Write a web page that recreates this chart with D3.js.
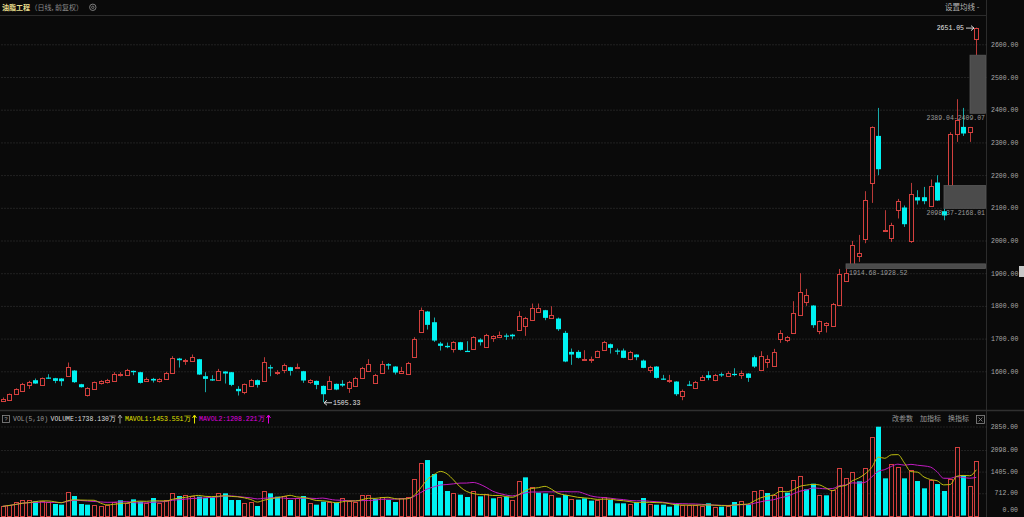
<!DOCTYPE html>
<html><head><meta charset="utf-8">
<script src="https://cdn.jsdelivr.net/npm/d3@7"></script>
<style>
html,body{margin:0;padding:0;background:#0a0a0a;overflow:hidden}
svg{display:block}
</style></head><body>
<svg id="c" width="1024" height="517"></svg>
<script>
// ---------- DATA ----------
const openP = [1510.6,1513.6,1529.9,1540.2,1559.5,1572.8,1559.5,1580.9,1578.9,1577.9,
1585.0,1602.3,1560.5,1528.9,1547.3,1564.6,1568.7,1570.7,1589.1,1589.1,
1601.3,1597.2,1569.7,1576.8,1570.7,1577.9,1595.2,1639.0,1630.9,1631.9,
1637.0,1585.0,1575.8,1573.8,1599.3,1597.2,1546.3,1536.1,1556.5,1572.8,
1570.7,1612.5,1594.2,1603.4,1612.5,1609.5,1600.3,1566.7,1570.7,1555.4,
1546.3,1561.6,1561.6,1550.3,1554.4,1580.9,1600.3,1565.6,1596.2,1621.7,
1614.6,1596.2,1593.2,1645.1,1721.6,1782.8,1750.1,1684.9,1677.8,1668.6,
1689.0,1662.5,1669.6,1697.1,1673.7,1703.2,1704.3,1709.4,1712.0,1727.7,
1737.9,1758.3,1782.8,1786.8,1762.4,1761.3,1717.5,1659.4,1659.4,1636.0,
1633.9,1644.1,1665.5,1682.8,1663.5,1663.5,1638.0,1651.2,1632.9,1605.4,
1614.5,1577.8,1571.7,1568.7,1524.8,1559.5,1549.3,1574.8,1588.1,1574.8,
1591.1,1586.0,1592.1,1589.1,1593.1,1643.1,1605.4,1627.8,1616.6,1699.2,
1697.1,1718.5,1771.5,1812.3,1801.1,1723.6,1742.0,1739.9,1804.2,1876.5,
1929.5,1954.1,2004.0,2176.1,2319.9,2030.5,2008.0,2092.7,2100.9,1998.8,
2132.4,2132.4,2105.8,2177.4,2089.6,2168.5,2324.2,2347.4,2332.1,2615.6];
const highP = [1519.8,1532.0,1548.0,1564.6,1570.7,1577.9,1580.9,1591.1,1579.9,1578.9,
1626.8,1603.4,1561.6,1551.4,1568.7,1572.8,1576.8,1597.2,1597.2,1607.4,
1602.3,1598.3,1580.9,1579.9,1578.9,1598.3,1646.2,1641.1,1638.0,1651.3,
1638.0,1597.2,1588.1,1607.4,1600.3,1598.3,1554.4,1562.6,1576.8,1574.8,
1643.1,1619.7,1603.4,1623.7,1613.5,1623.7,1601.3,1575.8,1571.8,1556.5,
1585.0,1562.6,1572.8,1570.7,1583.0,1613.5,1637.0,1592.1,1631.9,1624.7,
1615.6,1613.5,1628.8,1704.3,1795.0,1784.8,1764.4,1690.0,1687.9,1692.0,
1690.0,1692.0,1707.3,1701.2,1714.5,1710.4,1721.6,1715.5,1714.5,1783.8,
1766.4,1807.2,1807.2,1787.9,1799.1,1764.4,1723.6,1669.6,1664.5,1664.5,
1645.1,1663.5,1693.1,1684.9,1669.6,1669.6,1662.5,1652.3,1636.0,1616.6,
1615.6,1589.1,1589.1,1569.7,1544.2,1570.7,1570.7,1588.1,1600.3,1592.1,
1596.2,1600.3,1609.4,1602.3,1594.2,1648.2,1661.5,1649.2,1668.6,1725.7,
1708.3,1814.4,1900.0,1852.1,1802.1,1755.2,1750.1,1809.2,1913.0,1914.68,
1998.8,2017.1,2150.8,2349.0,2405.5,2092.7,2054.2,2127.2,2107.0,2176.1,
2153.8,2163.9,2186.5,2199.7,2098.37,2331.2,2432.1,2405.5,2347.4,2651.05];
const lowP = [1508.5,1511.6,1528.9,1539.1,1546.3,1561.6,1558.5,1576.8,1563.6,1555.4,
1583.0,1564.6,1550.3,1522.9,1546.3,1559.5,1562.6,1568.7,1584.0,1587.0,
1588.1,1562.6,1567.7,1565.6,1565.6,1575.8,1593.2,1611.5,1619.7,1629.9,
1589.1,1536.1,1570.7,1571.8,1562.6,1554.4,1525.9,1529.9,1554.4,1550.3,
1569.7,1585.0,1589.1,1594.2,1587.0,1607.4,1564.6,1561.6,1545.3,1505.33,
1544.2,1542.2,1552.4,1534.0,1552.4,1579.0,1598.2,1562.6,1594.2,1605.4,
1590.1,1595.2,1590.1,1644.1,1720.6,1727.7,1690.0,1663.5,1670.6,1657.4,
1663.5,1659.4,1667.6,1678.8,1671.6,1690.0,1703.2,1696.1,1698.1,1726.7,
1708.3,1757.3,1778.7,1756.3,1761.3,1723.6,1627.8,1619.7,1639.0,1636.0,
1625.8,1642.1,1663.5,1654.3,1651.2,1640.0,1633.9,1633.9,1609.4,1595.2,
1577.8,1573.8,1564.6,1524.8,1511.6,1555.4,1546.3,1574.8,1572.8,1569.7,
1583.0,1585.0,1585.0,1576.8,1567.7,1610.5,1603.3,1610.5,1613.5,1687.0,
1688.9,1717.5,1769.5,1800.1,1732.8,1713.4,1718.5,1737.9,1802.1,1874.5,
1928.52,1934.6,1991.7,2115.0,2199.7,2030.5,1995.7,2067.3,2041.6,1992.7,
2110.1,2111.0,2104.0,2121.1,2062.1,2168.01,2301.5,2319.9,2301.5,2566.7];
const closeP = [1516.7,1529.9,1546.3,1562.6,1568.7,1562.6,1578.9,1579.5,1570.7,1569.7,
1613.5,1566.7,1551.4,1550.3,1566.7,1569.7,1574.8,1591.1,1590.5,1605.4,
1597.2,1564.6,1577.9,1571.8,1575.8,1596.2,1641.1,1633.9,1635.0,1644.1,
1590.1,1576.8,1571.8,1602.3,1593.2,1558.5,1539.1,1560.5,1574.8,1558.5,
1629.9,1609.5,1597.2,1618.6,1601.3,1612.5,1571.8,1572.5,1558.5,1529.9,
1571.8,1544.2,1556.5,1568.7,1580.9,1611.5,1623.7,1590.1,1621.7,1617.6,
1596.2,1601.3,1626.8,1700.2,1788.9,1742.0,1694.1,1677.8,1673.7,1689.0,
1665.5,1660.4,1705.3,1689.0,1710.4,1707.3,1711.4,1706.3,1707.0,1770.5,
1764.4,1794.0,1793.0,1763.4,1772.6,1728.7,1629.9,1651.3,1641.1,1638.0,
1637.0,1661.5,1691.0,1671.6,1660.4,1641.1,1660.4,1643.1,1610.5,1613.5,
1579.9,1574.8,1574.3,1529.9,1541.2,1556.5,1568.7,1583.0,1579.9,1590.1,
1589.1,1595.2,1589.1,1596.2,1579.9,1614.5,1648.2,1637.0,1658.4,1716.5,
1706.3,1777.7,1841.9,1832.7,1741.0,1753.2,1748.1,1807.2,1899.0,1902.0,
1985.6,1963.3,2123.2,2347.4,2218.0,2031.5,2046.8,2121.1,2049.8,2141.6,
2122.3,2120.2,2167.0,2122.3,2076.5,2326.0,2367.9,2327.2,2347.4,2651.05];
const volume = [293,347,421,507,486,453,464,421,368,347,
763,624,368,347,336,315,336,443,486,411,
517,443,411,560,411,496,710,624,656,624,
603,560,581,710,710,496,496,411,443,304,
795,710,603,624,496,549,624,389,347,443,
443,411,549,475,443,646,646,528,603,496,
432,571,581,1157,1690,1776,1328,1104,784,710,
667,592,774,614,678,550,592,603,496,1104,
1222,902,731,710,646,571,656,539,507,550,
475,507,582,496,390,390,368,422,560,368,
347,347,283,368,325,336,336,304,390,283,
283,304,432,464,347,774,806,720,646,902,
731,1136,1254,838,1019,646,646,816,1510,1190,
1382,1094,1510,2523,2843,1190,1649,1542,1190,1456,
1104,870,1136,1008,784,1158,2182,1286,955,1738.13];
const priceTicks = [1600,1700,1800,1900,2000,2100,2200,2300,2400,2500,2600];
const volumeTicks = [0,712,1405,2098,2850];
const gapStart = [129,144,148];
const gapLow = [1914.68,2098.37,2389.04];
const gapHigh = [1928.52,2168.01,2566.7];
const gapLabels = ["1914.68-1928.52","2098.37-2168.01","2389.04-2409.07"];
const lowMark = [49, 1505.33];
const highMark = [149, 2651.05];
const legendTexts = ["VOL(5,10)","VOLUME:1738.130万","MAVOL1:1453.551万","MAVOL2:1208.221万"];
const toolTexts = ["改参数","加指标","换指标"];

// ---------- DRAW ----------
const BG="#0a0a0a", RED="#d4403e", RED_W="#b93a38", CYAN="#00f2f2", CYAN_W="#16a9a9";
const GRID="#3a3a3a", AXC="#2c2c2c", LBL="#a8a8a8";
const MONO="'Liberation Mono','DejaVu Sans Mono',monospace";
const CJK="'Noto Sans CJK SC','Noto Sans',sans-serif";
const FS=6.5;          // mono label font size
const CW=FS*0.6;       // mono char width
const AX=986.5;
const svg=d3.select("#c");
svg.append("rect").attr("width",1024).attr("height",517).attr("fill",BG);

const n=closeP.length;
const x=d3.scaleLinear().domain([0,n-1]).range([2.5,976.3]);
const y=d3.scaleLinear().domain([1600,2600]).range([371.3,44.3]);
const yv=d3.scaleLinear().domain([0,2850]).range([515.5,426.5]);

const defs=svg.append("defs");
defs.append("clipPath").attr("id","cm").append("rect").attr("x",0).attr("y",16).attr("width",AX).attr("height",393);
defs.append("clipPath").attr("id","cv").append("rect").attr("x",0).attr("y",424).attr("width",AX).attr("height",93);

// frame lines
svg.append("line").attr("x1",0).attr("x2",AX).attr("y1",15.5).attr("y2",15.5).attr("stroke",AXC);
svg.append("line").attr("x1",AX).attr("x2",AX).attr("y1",0).attr("y2",517).attr("stroke",AXC);
svg.append("line").attr("x1",0).attr("x2",1024).attr("y1",410.5).attr("y2",410.5).attr("stroke","#303030").attr("stroke-width",1.5);

// grid main
const gridM=svg.append("g").attr("transform",`translate(${AX},0)`)
  .call(d3.axisLeft(y).tickValues(priceTicks).tickSize(AX).tickFormat(""));
gridM.select(".domain").remove();
gridM.selectAll("line").attr("stroke",GRID).attr("stroke-dasharray","1,2");
// grid volume
const gridV=svg.append("g").attr("transform",`translate(${AX},0)`)
  .call(d3.axisLeft(yv).tickValues(volumeTicks.filter(v=>v>0)).tickSize(AX).tickFormat(""));
gridV.select(".domain").remove();
gridV.selectAll("line").attr("stroke",GRID).attr("stroke-dasharray","1,2");

// axes labels
const axM=svg.append("g").attr("transform",`translate(${AX},0)`)
  .call(d3.axisRight(y).tickValues(priceTicks).tickSize(0).tickFormat(d3.format(".2f")));
axM.select(".domain").remove();
axM.selectAll("text").attr("x",4.5).attr("text-anchor","start").attr("fill",LBL)
  .attr("font-family",MONO).attr("font-size",FS);
const axV=svg.append("g").attr("transform",`translate(${AX},0)`)
  .call(d3.axisRight(yv).tickValues(volumeTicks).tickSize(0).tickFormat(d3.format(".2f")));
axV.select(".domain").remove();
axV.selectAll(".tick").attr("transform",d=>`translate(0,${d===0?510:yv(d)})`);
axV.selectAll("text").attr("x",d=>31.5-d3.format(".2f")(d).length*CW).attr("text-anchor","start").attr("fill",LBL)
  .attr("font-family",MONO).attr("font-size",FS);

// candles
const idx=d3.range(n);
const isUp=i=>closeP[i]>=openP[i];
const cxp=i=>Math.round(x(i));
const gc=svg.append("g").attr("clip-path","url(#cm)");
gc.selectAll("line.w").data(idx).join("line").attr("class","w")
  .attr("x1",i=>cxp(i)+0.5).attr("x2",i=>cxp(i)+0.5)
  .attr("y1",i=>y(highP[i])).attr("y2",i=>y(lowP[i]))
  .attr("stroke",i=>isUp(i)?RED_W:CYAN_W);
gc.selectAll("rect.up").data(idx.filter(isUp)).join("rect").attr("class","up")
  .attr("x",i=>cxp(i)-1.5)
  .attr("y",i=>Math.round(y(closeP[i]))+0.5)
  .attr("width",4)
  .attr("height",i=>Math.max(1,Math.round(y(openP[i]))-Math.round(y(closeP[i]))))
  .attr("fill",BG).attr("stroke",RED);
gc.selectAll("rect.dn").data(idx.filter(i=>!isUp(i))).join("rect").attr("class","dn")
  .attr("x",i=>cxp(i)-2)
  .attr("y",i=>y(openP[i]))
  .attr("width",5)
  .attr("height",i=>Math.max(1.2,y(closeP[i])-y(openP[i])))
  .attr("fill",CYAN);

// gap zones
const gi=d3.range(gapStart.length);
const lblW=k=>gapLabels[k].length*CW;
const wide=k=>(AX-cxp(gapStart[k]))>lblW(k)+10;
svg.selectAll("rect.gap").data(gi).join("rect").attr("class","gap")
  .attr("x",k=>cxp(gapStart[k])).attr("width",k=>AX-1-cxp(gapStart[k]))
  .attr("y",k=>y(gapHigh[k])).attr("height",k=>y(gapLow[k])-y(gapHigh[k]))
  .attr("fill","#4b4b4b").attr("stroke","#5a5a5a").attr("stroke-width",0.8);
svg.selectAll("text.gap").data(gi).join("text").attr("class","gap")
  .attr("x",k=>wide(k)?cxp(gapStart[k])+3:985-lblW(k))
  .attr("y",k=>y(gapLow[k])+4.6).attr("dy","0.35em")
  .attr("fill","#9a9a9a").attr("font-family",MONO).attr("font-size",FS)
  .text(k=>gapLabels[k]);

// high / low marks
const hx=cxp(highMark[0]), hy=y(highMark[1]);
const hTxt=highMark[1].toFixed(2);
svg.append("text").attr("x",hx-12-hTxt.length*CW).attr("y",hy).attr("dy","0.35em")
  .attr("fill","#e6e6e6").attr("font-family",MONO).attr("font-size",FS).text(hTxt);
svg.append("path").attr("d",`M${hx-10},${hy+0.5}H${hx-2}M${hx-5},${hy-2}L${hx-2},${hy+0.5}L${hx-5},${hy+3}`)
  .attr("stroke","#e6e6e6").attr("fill","none").attr("stroke-width",0.9);
const lx=cxp(lowMark[0]), ly=y(lowMark[1]);
svg.append("path").attr("d",`M${lx+1},${ly+0.5}H${lx+9}M${lx+4},${ly-2}L${lx+1},${ly+0.5}L${lx+4},${ly+3}`)
  .attr("stroke","#e6e6e6").attr("fill","none").attr("stroke-width",0.9);
svg.append("text").attr("x",lx+10).attr("y",ly).attr("dy","0.35em")
  .attr("fill","#e6e6e6").attr("font-family",MONO).attr("font-size",FS).text(lowMark[1].toFixed(2));

// volume bars
const vUp=i=>i===0?isUp(0):closeP[i]>=closeP[i-1];
const gv=svg.append("g").attr("clip-path","url(#cv)");
gv.selectAll("rect.vu").data(idx.filter(vUp)).join("rect").attr("class","vu")
  .attr("x",i=>cxp(i)-1.5).attr("y",i=>Math.round(yv(volume[i]))+0.5)
  .attr("width",4).attr("height",i=>Math.round(yv(0))-Math.round(yv(volume[i])))
  .attr("fill",BG).attr("stroke",RED);
gv.selectAll("rect.vd").data(idx.filter(i=>!vUp(i))).join("rect").attr("class","vd")
  .attr("x",i=>cxp(i)-2).attr("y",i=>yv(volume[i]))
  .attr("width",5).attr("height",i=>yv(0)-yv(volume[i]))
  .attr("fill",CYAN);
// moving averages of volume
const ma=k=>idx.map(i=>d3.mean(volume.slice(Math.max(0,i-k+1),i+1)));
const lineGen=d3.line().x((d,i)=>x(i)).y(d=>yv(d)).curve(d3.curveMonotoneX);
gv.append("path").attr("d",lineGen(ma(10))).attr("fill","none").attr("stroke","#c21cc2").attr("stroke-width",1);
gv.append("path").attr("d",lineGen(ma(5))).attr("fill","none").attr("stroke","#bdbd10").attr("stroke-width",1);

// header
svg.append("text").attr("x",2).attr("y",7.5).attr("dy","0.35em").attr("fill","#e8dc8c")
  .attr("font-family",CJK).attr("font-size",7).attr("font-weight","bold").text("油脂工程");
svg.append("text").attr("x",30.5).attr("y",7.5).attr("dy","0.35em").attr("fill","#8a8a8a")
  .attr("font-family",CJK).attr("font-size",7).text("（日线, 前复权）");
svg.append("circle").attr("cx",92.8).attr("cy",7.3).attr("r",3.2).attr("fill","none").attr("stroke","#8a8a8a").attr("stroke-width",0.9);
svg.append("circle").attr("cx",92.8).attr("cy",7.3).attr("r",1.2).attr("fill","none").attr("stroke","#8a8a8a").attr("stroke-width",0.8);
svg.append("text").attr("x",945).attr("y",7).attr("dy","0.35em").attr("fill","#b5b5b5")
  .attr("font-family",CJK).attr("font-size",7.5).text("设置均线 -");

// scroll handle
svg.append("rect").attr("x",1019).attr("y",266).attr("width",5).attr("height",11).attr("fill","#c8c8c8");

// volume legend
svg.append("rect").attr("x",2.5).attr("y",415.5).attr("width",7).attr("height",7).attr("fill","none").attr("stroke","#8a8a8a").attr("stroke-width",0.8);
svg.append("text").attr("x",6).attr("y",419).attr("dy","0.35em").attr("text-anchor","middle").attr("fill","#9a9a9a")
  .attr("font-family",MONO).attr("font-size",6).text("?");
const legPos=[[13,"#9a9a9a"],[50.5,"#dedede"],[125,"#e4e400"],[199,"#e000e0"]];
legendTexts.forEach((t,k)=>{
  svg.append("text").attr("x",legPos[k][0]).attr("y",419).attr("dy","0.35em").attr("fill",legPos[k][1])
    .attr("font-family",MONO).attr("font-size",FS).text(t);
});
[[120,"#9a9a9a"],[194.5,"#e4e400"],[268.5,"#e000e0"]].forEach(([ax,col])=>{
  svg.append("path").attr("d",`M${ax},423.5V415.5M${ax-2},418L${ax},415L${ax+2},418`).attr("stroke",col).attr("fill","none").attr("stroke-width",1);
});
toolTexts.forEach((t,k)=>{
  svg.append("text").attr("x",892+k*28).attr("y",419).attr("dy","0.35em").attr("fill","#9a9a9a")
    .attr("font-family",CJK).attr("font-size",7).text(t);
});
svg.append("rect").attr("x",976.5).attr("y",415.5).attr("width",8).attr("height",8).attr("fill","none").attr("stroke","#8a8a8a").attr("stroke-width",0.8);
svg.append("path").attr("d","M978.5,417.5L982.5,421.5M982.5,417.5L978.5,421.5").attr("stroke","#8a8a8a").attr("stroke-width",0.8);
</script>
</body></html>
